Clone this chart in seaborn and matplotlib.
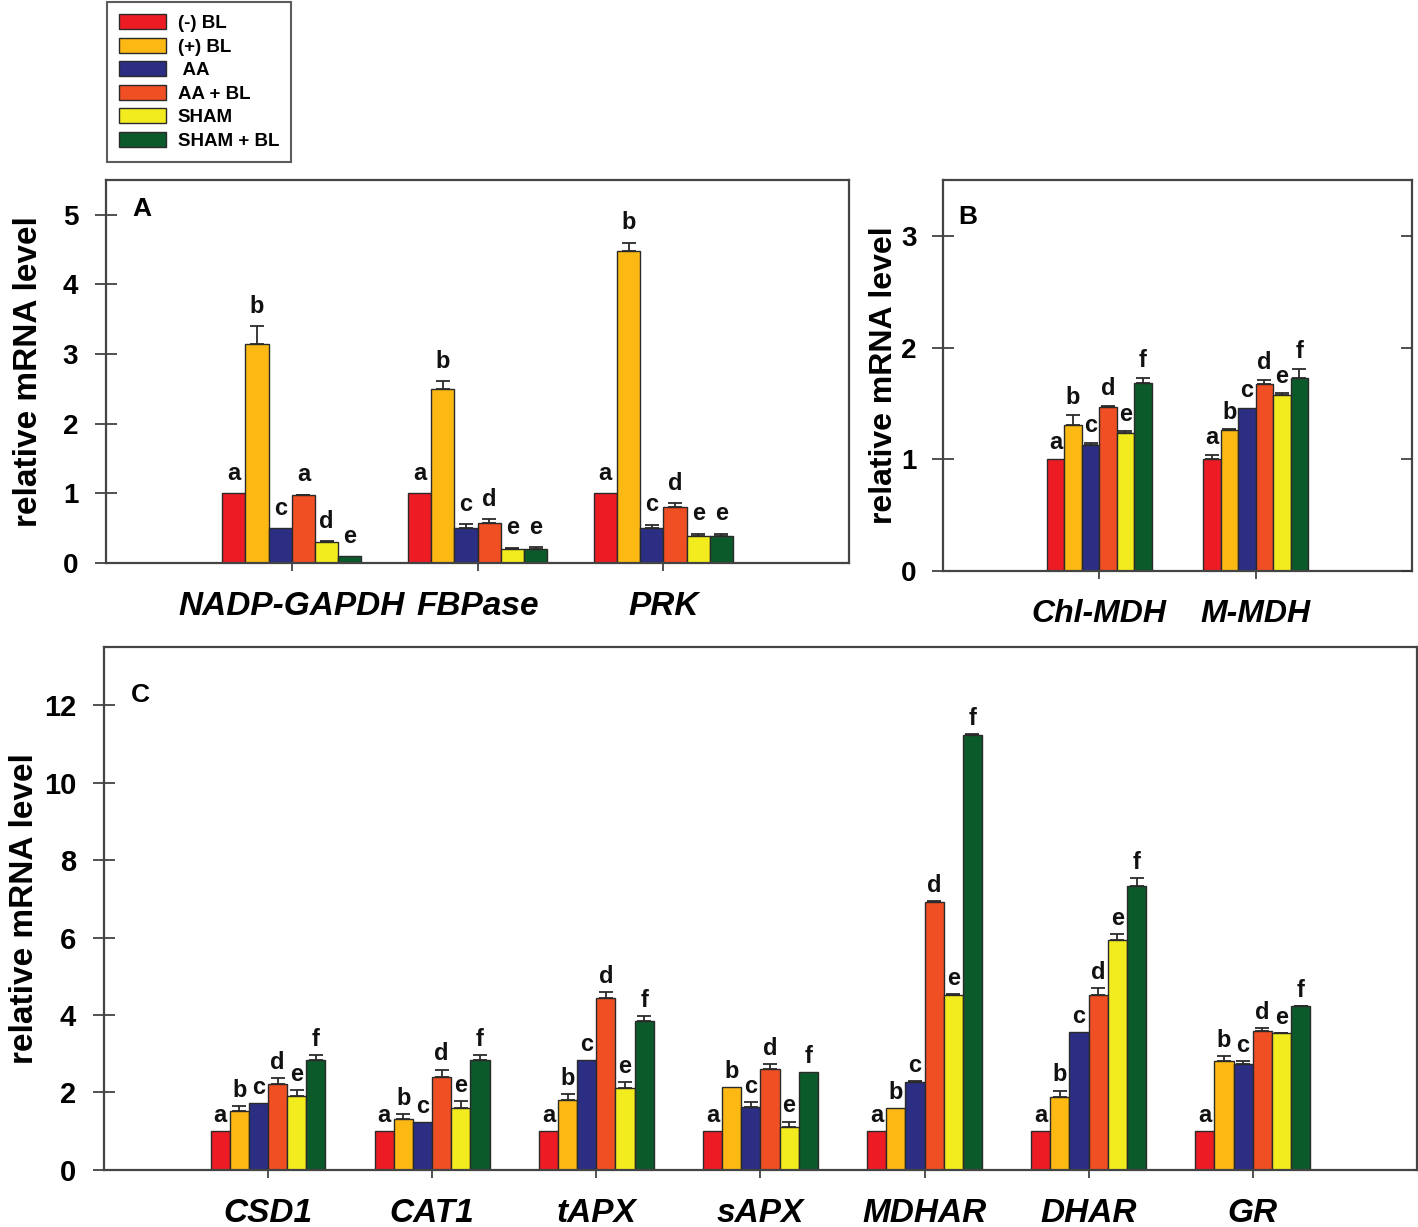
import numpy as np
import pandas as pd
import matplotlib
matplotlib.use("Agg")
import matplotlib.pyplot as plt
from matplotlib.patches import Patch
import seaborn as sns

# ---------------- data ----------------
treatments = ["(-) BL", "(+) BL", " AA", "AA + BL", "SHAM", "SHAM + BL"]
colors = ["#ED1C24", "#FDB913", "#2B2E83", "#F04E23", "#F2EC1E", "#0B5A2A"]

genes_a = ["NADP-GAPDH", "FBPase", "PRK"]
vals_a = [[1.0, 3.15, 0.50, 0.97, 0.30, 0.10],
          [1.0, 2.50, 0.50, 0.57, 0.20, 0.20],
          [1.0, 4.48, 0.50, 0.80, 0.39, 0.39]]
errs_a = [[0, 0.25, 0, 0.01, 0.01, 0],
          [0, 0.11, 0.06, 0.06, 0.02, 0.03],
          [0, 0.12, 0.05, 0.06, 0.03, 0.03]]
lets_a = [["a", "b", "c", "a", "d", "e"],
          ["a", "b", "c", "d", "e", "e"],
          ["a", "b", "c", "d", "e", "e"]]

genes_b = ["Chl-MDH", "M-MDH"]
vals_b = [[1.0, 1.31, 1.13, 1.47, 1.24, 1.68],
          [1.0, 1.26, 1.46, 1.67, 1.58, 1.73]]
errs_b = [[0, 0.09, 0.02, 0.01, 0.01, 0.05],
          [0.04, 0.01, 0, 0.04, 0.01, 0.08]]
lets_b = [list("abcdef"), list("abcdef")]

genes_c = ["CSD1", "CAT1", "tAPX", "sAPX", "MDHAR", "DHAR", "GR"]
vals_c = [[1.0, 1.51, 1.72, 2.22, 1.92, 2.83],
          [1.0, 1.31, 1.23, 2.41, 1.61, 2.83],
          [1.0, 1.81, 2.84, 4.44, 2.11, 3.84],
          [1.0, 2.14, 1.62, 2.61, 1.10, 2.53],
          [1.0, 1.60, 2.28, 6.92, 4.51, 11.23],
          [1.0, 1.88, 3.55, 4.51, 5.93, 7.33],
          [1.0, 2.82, 2.74, 3.59, 3.53, 4.22]]
errs_c = [[0, 0.13, 0, 0.16, 0.15, 0.14],
          [0, 0.14, 0, 0.18, 0.16, 0.14],
          [0, 0.15, 0, 0.15, 0.16, 0.14],
          [0, 0, 0.13, 0.13, 0.15, 0],
          [0, 0, 0.02, 0.02, 0.02, 0.02],
          [0, 0.17, 0, 0.18, 0.16, 0.20],
          [0, 0.11, 0.06, 0.07, 0.01, 0.02]]
lets_c = [list("abcdef") for _ in genes_c]

plt.rcParams['font.family'] = ['Liberation Sans', 'DejaVu Sans']
EDGE = "#2a2a2a"


def panel(ax, genes, vals, errs, lets, width, ylim, yticks, letter, letter_xy,
          tick_fs, label_fs, xlab_fs, ylab_x, ypad, let_off):
    rows = []
    for g, v in zip(genes, vals):
        for t, y in zip(treatments, v):
            rows.append({"gene": g, "treatment": t, "value": y})
    df = pd.DataFrame(rows)
    sns.barplot(data=df, x="gene", y="value", hue="treatment", order=genes,
                hue_order=treatments, palette=colors, saturation=1, width=width,
                edgecolor=EDGE, linewidth=1.0, errorbar=None, legend=False, ax=ax)
    bar_conts = list(ax.containers)
    for i, cont in enumerate(bar_conts):
        for j, bar in enumerate(cont.patches):
            x = bar.get_x() + bar.get_width() / 2
            h = bar.get_height()
            e = errs[j][i]
            if e > 0:
                ax.errorbar(x, h, yerr=[[0], [e]], fmt="none", ecolor=EDGE,
                            elinewidth=1.3, capsize=5, capthick=1.3, zorder=3)
            ax.annotate(lets[j][i], (x, h + e), xytext=(0, let_off),
                        textcoords="offset points", ha="center", va="bottom",
                        fontsize=17, fontweight="bold", color="#111")
    ax.set_xlim(-1, len(genes))
    ax.set_ylim(*ylim)
    ax.set_yticks(yticks)
    ax.set_yticklabels([str(t) for t in yticks], fontsize=tick_fs, fontweight="bold")
    ax.set_xticks(range(len(genes)))
    ax.set_xticklabels(genes, fontsize=xlab_fs, fontweight="bold", fontstyle="italic")
    ax.set_xlabel("")
    ax.set_ylabel("relative mRNA level", fontsize=label_fs, fontweight="bold")
    ax.yaxis.set_label_coords(ylab_x, 0.5)
    ax.tick_params(axis="x", direction="out", length=6, width=1.2, pad=14, color="#333")
    ax.tick_params(axis="y", direction="inout", length=16, width=1.2, pad=ypad, color="#333")
    for s in ax.spines.values():
        s.set_color("#444")
        s.set_linewidth(1.6)
    ax.text(letter_xy[0], letter_xy[1], letter, transform=ax.transAxes,
            fontsize=19, fontweight="bold", ha="left", va="top")


fig = plt.figure(figsize=(14.18, 12.27), dpi=100)
ax_a = fig.add_axes([0.0748, 0.5412, 0.524, 0.3121])
ax_b = fig.add_axes([0.6650, 0.5346, 0.3307, 0.3187])
ax_c = fig.add_axes([0.0733, 0.0465, 0.9259, 0.4262])

panel(ax_a, genes_a, vals_a, errs_a, lets_a, 0.75, (0, 5.5), [0, 1, 2, 3, 4, 5],
      "A", (0.035, 0.955), 20, 24, 24, -0.083, 12, 6)
panel(ax_b, genes_b, vals_b, errs_b, lets_b, 0.67, (0, 3.5), [0, 1, 2, 3],
      "B", (0.032, 0.936), 20, 23, 23, -0.094, 11, 4)
# inward ticks on the right side of panel B
ax_b2 = ax_b.twinx()
ax_b2.set_ylim(0, 3.5)
ax_b2.set_yticks([0, 1, 2, 3])
ax_b2.tick_params(axis="y", direction="in", length=8, width=1.2, labelright=False, color="#333")
for s in ax_b2.spines.values():
    s.set_visible(False)
panel(ax_c, genes_c, vals_c, errs_c, lets_c, 0.70, (0, 13.5), [0, 2, 4, 6, 8, 10, 12],
      "C", (0.0206, 0.931), 21, 24, 24, -0.049, 12, 3)

handles = [Patch(facecolor=c, edgecolor=EDGE, linewidth=1.0) for c in colors]
leg = fig.legend(handles, treatments, loc="upper left", bbox_to_anchor=(0.0755, 0.998),
                 prop={"weight": "bold", "size": 13.5}, handlelength=2.5, handleheight=0.85,
                 handletextpad=0.65, labelspacing=0.3, borderpad=0.62, borderaxespad=0,
                 fancybox=False, frameon=True)
leg.get_frame().set_edgecolor("#333")
leg.get_frame().set_linewidth(1.5)

fig.savefig("out.png", dpi=100)
